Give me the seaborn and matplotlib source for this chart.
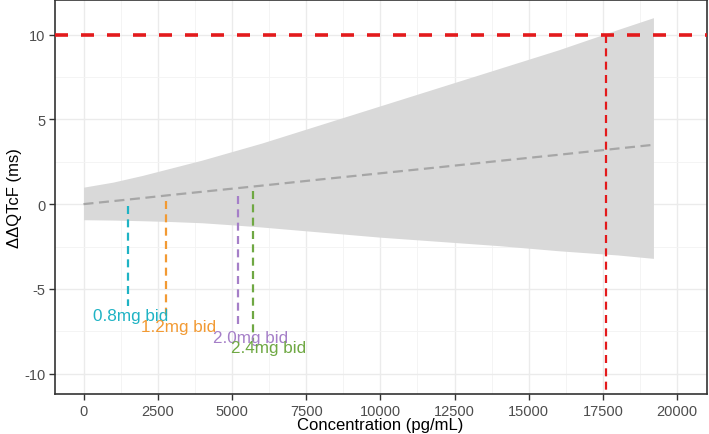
import numpy as np
import pandas as pd
import matplotlib
matplotlib.use("Agg")
import matplotlib.pyplot as plt
import seaborn as sns

# model prediction (mean + 90% CI band)
conc = [0, 1000, 2000, 3000, 4000, 5000, 6000, 8000, 10000, 12000, 14000, 16000, 18000, 19200]
mean_pred = [0.0, 0.18, 0.36, 0.55, 0.73, 0.91, 1.09, 1.46, 1.82, 2.18, 2.55, 2.91, 3.28, 3.5]
upper_ci = [1.0, 1.3, 1.7, 2.15, 2.6, 3.1, 3.6, 4.7, 5.8, 6.9, 8.0, 9.1, 10.3, 11.0]
lower_ci = [-0.92, -0.94, -0.98, -1.03, -1.1, -1.22, -1.35, -1.65, -1.95, -2.2, -2.45, -2.75, -3.0, -3.2]

# dose levels: geometric mean Cmax
doses = ['0.8mg bid', '1.2mg bid', '2.0mg bid', '2.4mg bid']
dose_conc = [1500, 2770, 5190, 5700]
seg_top = [-0.1, 0.2, 0.5, 0.8]
seg_bottom = [-6.0, -6.6, -7.3, -8.1]
label_x = [1600, 3200, 5620, 6220]
label_y = [-6.55, -7.2, -7.85, -8.45]
dose_colors = ['#1FB3C4', '#F29A33', '#A57FC8', '#6FA843']

threshold = 10
conc_at_threshold = 17600

df = pd.DataFrame({'conc': conc, 'mean': mean_pred, 'upper': upper_ci, 'lower': lower_ci})

sns.set_theme(style="whitegrid")
plt.rcParams['font.family'] = ['Liberation Sans', 'DejaVu Sans']
plt.rcParams['axes.unicode_minus'] = False

fig = plt.figure(figsize=(7.09, 4.35), dpi=100)
ax = fig.add_axes([0.078, 0.092, 0.919, 0.906])
ax.set_facecolor('white')

ax.fill_between(df['conc'], df['lower'], df['upper'], color='#D9D9D9', lw=0, zorder=1)
sns.lineplot(data=df, x='conc', y='mean', ax=ax, color='#A6A6A6', lw=1.6, zorder=2)
ax.lines[-1].set_dashes((4.5, 2.5))

ax.axhline(threshold, color='#E31A1C', lw=2.6, ls=(0, (3.6, 3.6)), zorder=3)
ax.plot([conc_at_threshold, conc_at_threshold], [threshold, -12], color='#E31A1C',
        lw=1.6, ls=(0, (3.6, 2.4)), zorder=3)

for d, x, y0, y1, lx, ly, c in zip(doses, dose_conc, seg_top, seg_bottom, label_x, label_y, dose_colors):
    ax.plot([x, x], [y0, y1], color=c, lw=1.6, ls=(0, (3.6, 2.4)), zorder=3)
    ax.text(lx, ly, d, color=c, fontsize=12.3, ha='center', va='center', zorder=4)

ax.set_xlim(-950, 21000)
ax.set_ylim(-11.2, 12.05)
ax.set_xticks([0, 2500, 5000, 7500, 10000, 12500, 15000, 17500, 20000])
ax.set_yticks([-10, -5, 0, 5, 10])
ax.set_xticks(np.arange(1250, 21000, 2500), minor=True)
ax.set_yticks([-7.5, -2.5, 2.5, 7.5], minor=True)
ax.grid(which='major', color='#EBEBEB', lw=1.0)
ax.grid(which='minor', color='#F3F3F3', lw=0.6)
ax.set_axisbelow(True)

for s in ax.spines.values():
    s.set_color('#333333')
    s.set_linewidth(1.2)
ax.tick_params(axis='both', which='major', length=4, width=1, color='#333333',
               labelcolor='#4D4D4D', labelsize=10.5, direction='out',
               bottom=True, left=True, pad=3)
ax.tick_params(which='minor', length=0)

ax.set_xlabel('Concentration (pg/mL)', fontsize=12, color='black', va='center')
ax.set_ylabel('ΔΔQTcF (ms)', fontsize=12, color='black', va='center')
ax.xaxis.set_label_coords(0.498, -0.078)
ax.yaxis.set_label_coords(-0.062, 0.5)

fig.savefig('out.png', dpi=100)
